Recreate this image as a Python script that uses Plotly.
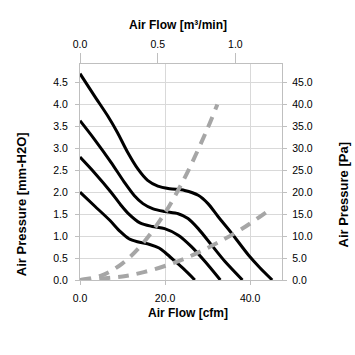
import plotly.graph_objects as go

# ---- data (x in cfm, y in mm-H2O) ----
c1_x = [0, 3.35, 6.5, 8.8, 11.2, 13.6, 15.9, 18.3, 21.1, 24.6, 27.8, 30.1, 32.5, 35.7, 39.6, 42.3, 45.2]
c1_y = [4.70, 4.20, 3.74, 3.36, 2.91, 2.53, 2.27, 2.14, 2.08, 2.04, 1.93, 1.74, 1.44, 1.06, 0.57, 0.28, 0.0]

c2_x = [0, 3.35, 7.3, 10.4, 12.8, 14.8, 17.2, 19.9, 23.1, 25.4, 27.8, 30.9, 34.1, 38.2]
c2_y = [3.63, 3.21, 2.68, 2.23, 1.92, 1.74, 1.62, 1.56, 1.51, 1.40, 1.17, 0.80, 0.42, 0.0]

c3_x = [0, 3.35, 7.3, 9.5, 11.5, 14.1, 17.0, 19.9, 23.1, 26.2, 29.4, 33.0]
c3_y = [2.80, 2.45, 2.00, 1.72, 1.50, 1.30, 1.22, 1.17, 1.02, 0.76, 0.42, 0.0]

c4_x = [0, 3.5, 7.0, 9.5, 11.5, 13.5, 16.4, 18.6, 20.2, 22.2, 24.5, 27.0]
c4_y = [2.00, 1.68, 1.36, 1.10, 0.94, 0.87, 0.81, 0.73, 0.61, 0.44, 0.24, 0.0]

impA_x = [0, 5, 10, 15, 20, 23.1, 25.8, 29.8, 32.3]
impA_y = [0, 0.10, 0.38, 0.86, 1.53, 2.05, 2.56, 3.41, 4.0]

impB_x = [0, 10, 15, 21.5, 27, 32, 38, 43.9]
impB_y = [0, 0.08, 0.18, 0.37, 0.59, 0.83, 1.16, 1.55]

fan_curves = [(c1_x, c1_y), (c2_x, c2_y), (c3_x, c3_y), (c4_x, c4_y)]
imp_curves = [(impA_x, impA_y), (impB_x, impB_y)]

x_range = [0, 47.5]
x_ticks = [0, 20, 40]
x2_range = [0, 1.30]
x2_ticks = [0, 0.5, 1.0]
y_range = [0, 4.92]
y2_range = [0, 49.2]

FONT = "Liberation Sans, Arial, sans-serif"
GRID = "#D9D9D9"
AXIS = "#BFBFBF"
TXT = "#000000"

fig = go.Figure()
for xs, ys in fan_curves:
    fig.add_trace(go.Scatter(x=xs, y=ys, mode="lines",
                             line=dict(color="black", width=3, shape="spline", smoothing=0.8),
                             showlegend=False, hoverinfo="skip"))
for xs, ys in imp_curves:
    fig.add_trace(go.Scatter(x=xs, y=ys, mode="lines",
                             line=dict(color="#A6A6A6", width=4, shape="spline", dash="11px,8px"),
                             showlegend=False, hoverinfo="skip"))
# invisible traces to activate secondary axes
fig.add_trace(go.Scatter(x=[0], y=[0], xaxis="x2", yaxis="y", mode="markers",
                         marker=dict(opacity=0), showlegend=False, hoverinfo="skip"))
fig.add_trace(go.Scatter(x=[0], y=[0], xaxis="x", yaxis="y2", mode="markers",
                         marker=dict(opacity=0), showlegend=False, hoverinfo="skip"))

tickfont = dict(family=FONT, size=10.5, color=TXT)
fig.update_layout(
    width=355, height=355,
    margin=dict(l=80, r=73, t=64, b=75),
    paper_bgcolor="white", plot_bgcolor="white",
    xaxis=dict(range=x_range, tickvals=x_ticks, tickformat=".1f", showgrid=True,
               gridcolor=GRID, gridwidth=1.3, zeroline=False, showline=True,
               linecolor=AXIS, linewidth=1.3, ticks="outside", ticklen=4, tickcolor=AXIS,
               tickfont=tickfont, ticklabelstandoff=4),
    xaxis2=dict(range=x2_range, tickvals=x2_ticks, tickformat=".1f", overlaying="x",
                side="top", showgrid=False, zeroline=False, showline=True,
                linecolor=AXIS, linewidth=1.3, ticks="outside", ticklen=10, tickcolor=AXIS,
                tickfont=tickfont, ticklabelstandoff=1),
    yaxis=dict(range=y_range, dtick=0.5, tick0=0, tickformat=".1f", showgrid=True,
               gridcolor=GRID, gridwidth=1.3, zeroline=False, showline=True,
               linecolor=AXIS, linewidth=1.3, ticks="outside", ticklen=4, tickcolor=AXIS,
               tickfont=tickfont, ticklabelstandoff=5),
    yaxis2=dict(range=y2_range, dtick=5, tick0=0, tickformat=".1f", overlaying="y",
                side="right", showgrid=False, zeroline=False, showline=True,
                linecolor=AXIS, linewidth=1.3, ticks="outside", ticklen=4, tickcolor=AXIS,
                tickfont=tickfont, ticklabelstandoff=3),
)

titlefont = dict(family=FONT, size=12, color=TXT, weight="bold")
vtitlefont = dict(family=FONT, size=13, color=TXT, weight="bold")
fig.add_annotation(text="Air Flow [m³/min]", xref="paper", yref="paper", x=0.485, y=1.18,
                   showarrow=False, font=titlefont, xanchor="center", yanchor="middle")
fig.add_annotation(text="Air Flow [cfm]", xref="paper", yref="paper", x=0.534, y=-0.153,
                   showarrow=False, font=titlefont, xanchor="center", yanchor="middle")
fig.add_annotation(text="Air Pressure [mm-H2O]", xref="paper", yref="paper", x=-0.286, y=0.352,
                   showarrow=False, font=vtitlefont, textangle=-90, xanchor="center", yanchor="middle")
fig.add_annotation(text="Air Pressure [Pa]", xref="paper", yref="paper", x=1.305, y=0.394,
                   showarrow=False, font=vtitlefont, textangle=-90, xanchor="center", yanchor="middle")

fig.write_html("out.html", config={"displayModeBar": False},
               post_script="document.body.style.margin='0';document.body.style.overflow='hidden';")
